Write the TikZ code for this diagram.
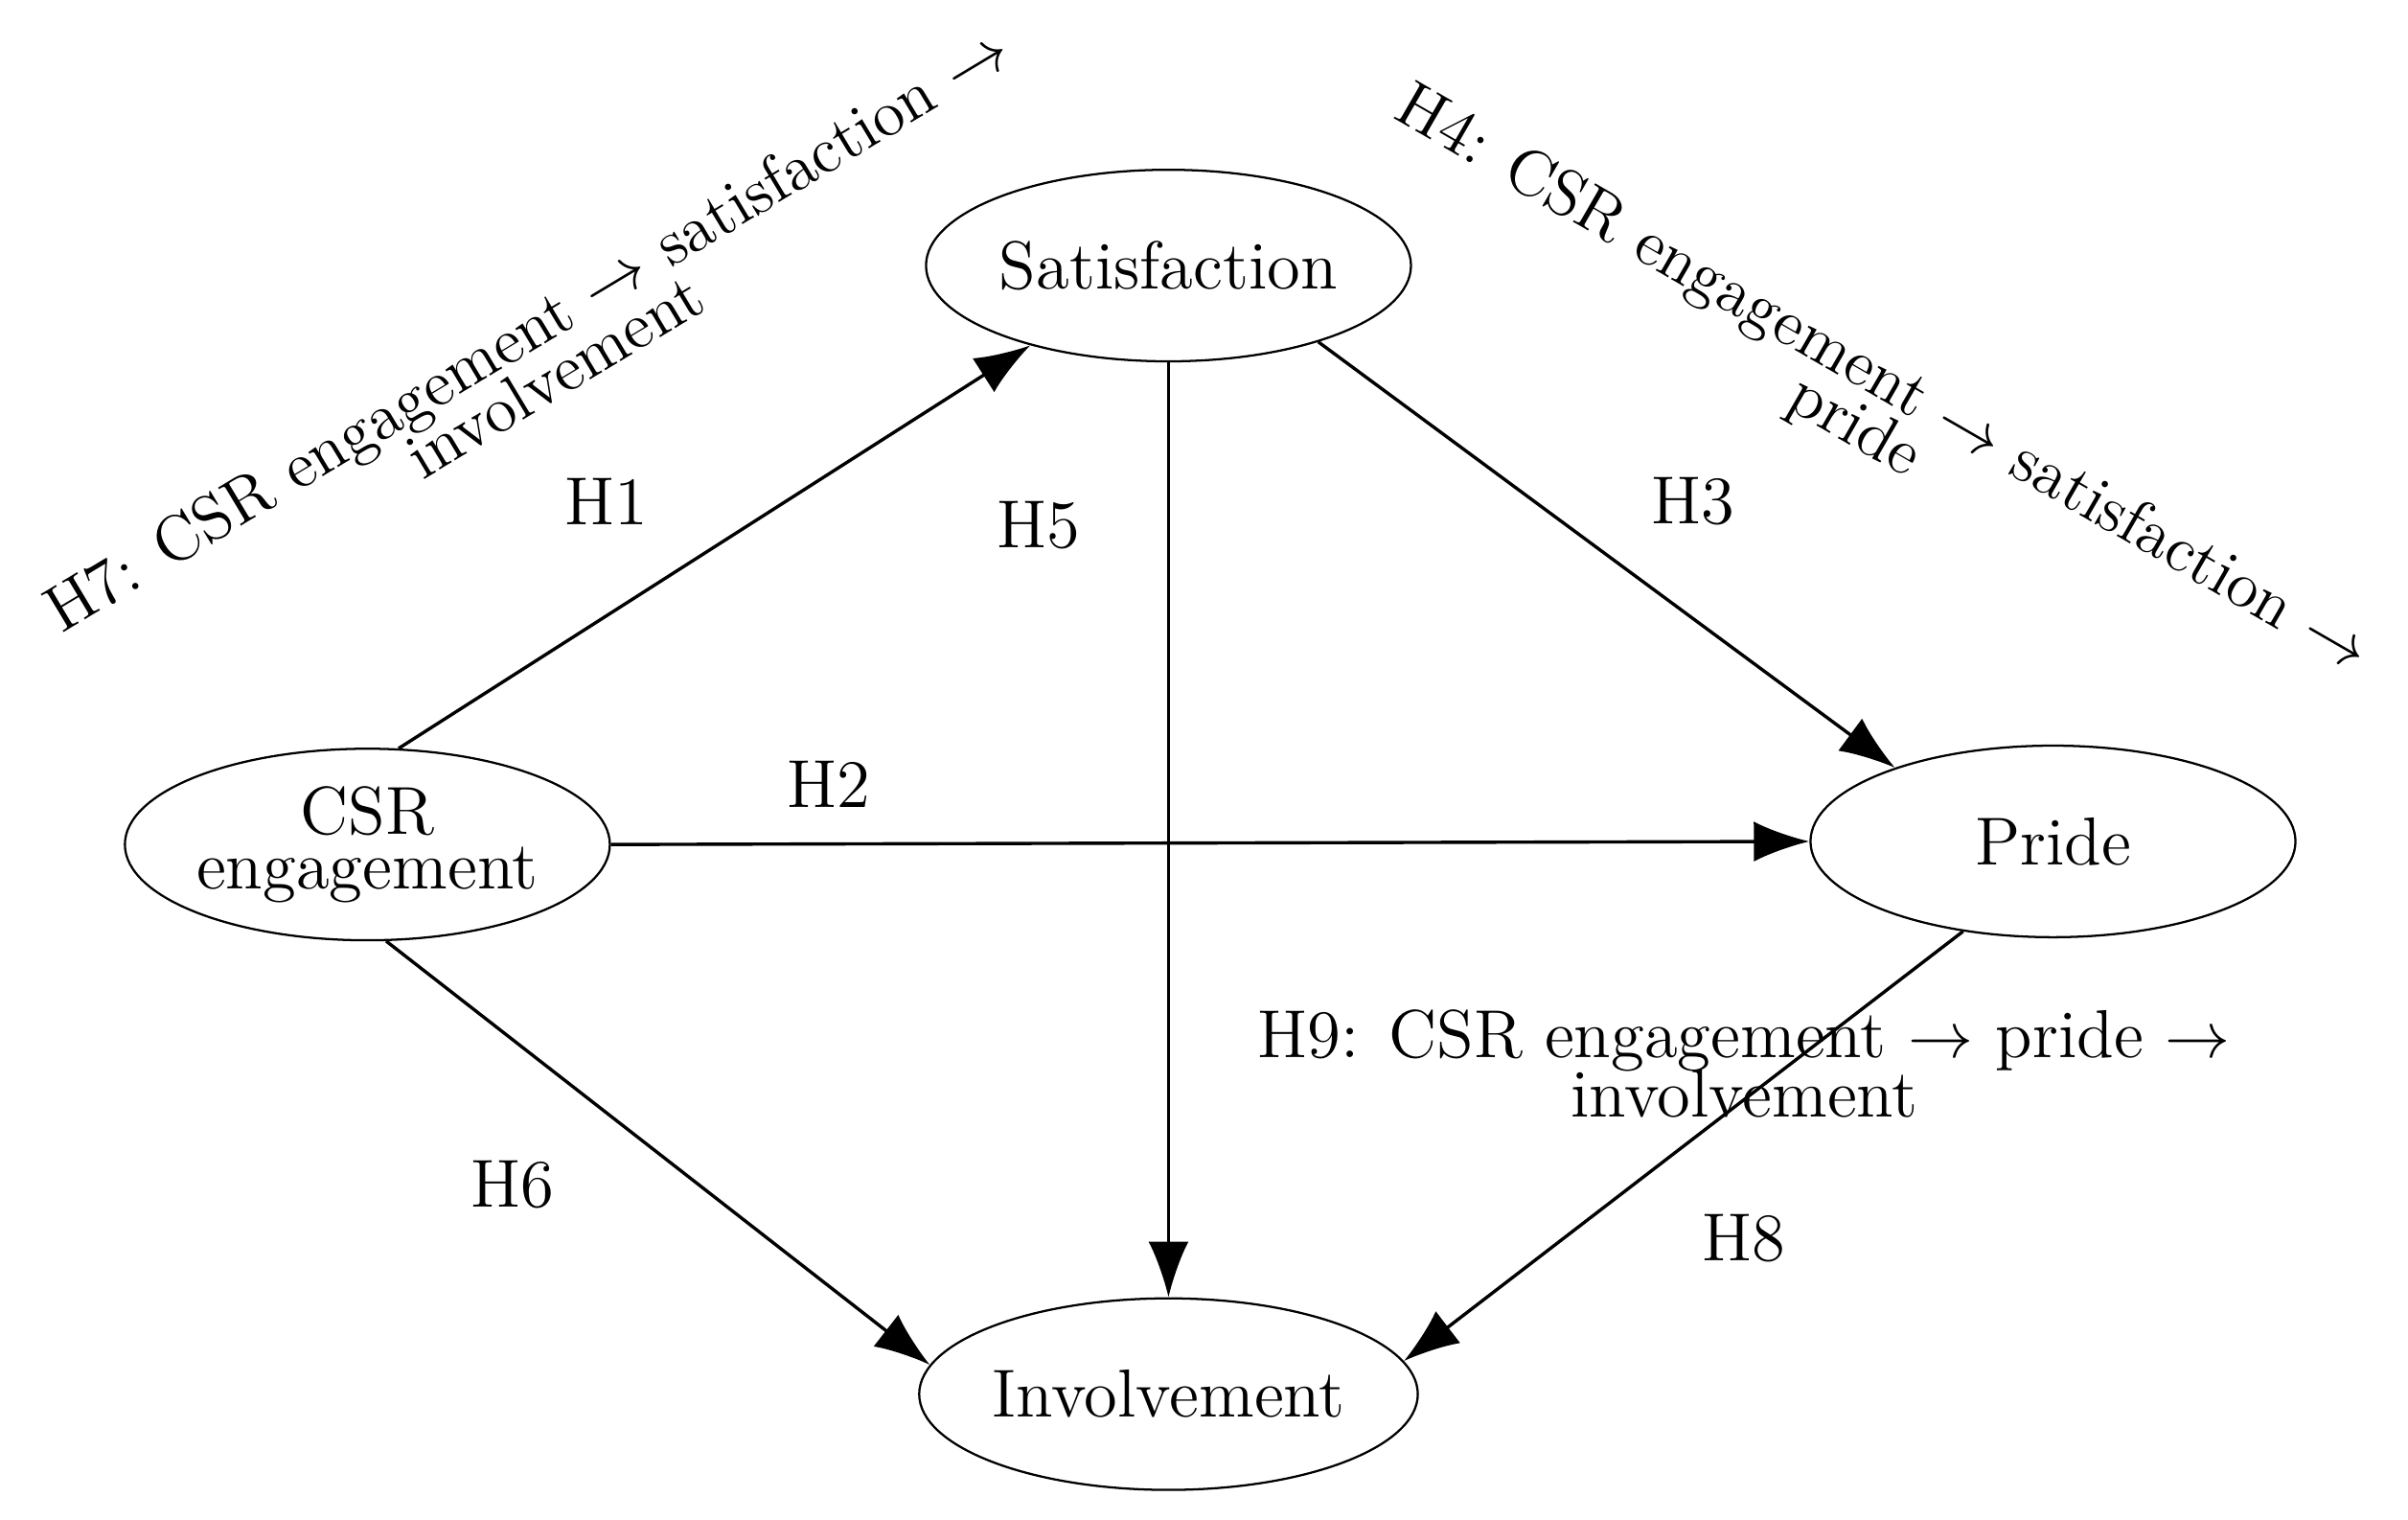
\documentclass[tikz,border=0pt]{standalone}
\usetikzlibrary{arrows.meta,shapes.geometric}
\begin{document}
\begin{tikzpicture}[x=0.01cm,y=-0.01cm,
  var/.style={draw,ellipse,minimum width=3.14cm,minimum height=1.24cm,inner sep=0pt,align=center,font=\fontsize{12.5}{14}\selectfont},
  lab/.style={font=\fontsize{12.5}{15}\selectfont,align=center},
  rlab/.style={font=\fontsize{12}{14}\selectfont,align=center,inner sep=1pt},
  arr/.style={-{Latex[length=0.36cm,width=0.26cm]},line width=0.6pt}]
\useasboundingbox (0,0) rectangle (1560,984);
\node[var] (sat) at (757,172) {Satisfaction};
\node[var] (csr) at (238,547) {CSR\\[-4pt]engagement};
\node[var] (pride) at (1330,545) {Pride};
\node[var] (inv) at (757,903) {Involvement};
\draw[arr] (csr.72) -- (sat.-150);
\draw[arr] (csr.east) -- (pride.west);
\draw[arr] (sat.south) -- (inv.north);
\draw[arr] (sat.-27) -- (pride.155);
\draw[arr] (csr.-79) -- (inv.173);
\draw[arr] (pride.-135) -- (inv.8);
\node[lab] (h1) at (393,325) {H1};
\node[lab] (h5) at (673,340) {H5};
\node[lab] (h3) at (1097,325) {H3};
\node[lab] (h2) at (537,508) {H2};
\node[lab] (h6) at (332,767) {H6};
\node[lab] (h8) at (1130,802) {H8};
\node[lab] (h9) at (1130,689) {H9: CSR engagement $\rightarrow$ pride $\rightarrow$\\[-4pt]involvement};
\node[rlab,rotate=31] (h7) at (350,228) {H7: CSR engagement $\rightarrow$ satisfaction $\rightarrow$\\[-4pt]involvement};
\node[rlab,rotate=-30] (h4) at (1210,262) {H4: CSR engagement $\rightarrow$ satisfaction $\rightarrow$\\[-4pt]pride};
\end{tikzpicture}
\end{document}
